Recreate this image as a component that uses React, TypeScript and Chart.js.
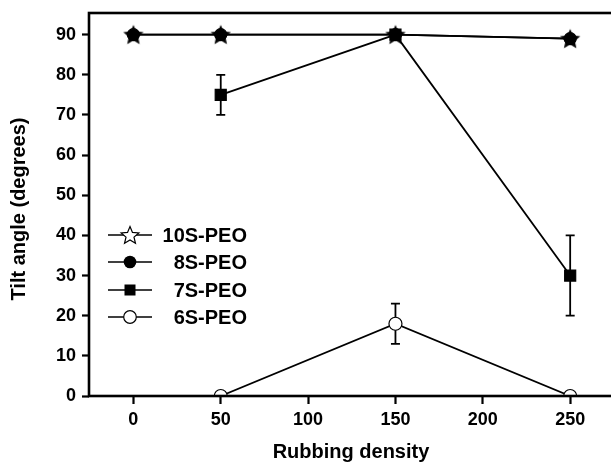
import React, { useEffect, useRef } from "react";
import { Chart, registerables } from "chart.js";

Chart.register(...registerables);

// Rubbing densities at which the tilt angle was measured
const densities = [0, 50, 150, 250];
const xTickValues = [0, 50, 100, 150, 200, 250];
const yTickValues = [0, 10, 20, 30, 40, 50, 60, 70, 80, 90];

// Tilt angle (degrees) per sample
const tilt10S = [90, 90, 90, 89];
const tilt8S = [90, 90, 90, 89];
const tilt7S = [null, 75, 90, 30];
const tilt6S = [null, 0, 18, 0];

// Error bar half-heights (degrees)
const err7S = [0, 5, 0, 10];
const err6S = [0, 0, 5, 0];

const legendLabels = ["10S-PEO", "8S-PEO", "7S-PEO", "6S-PEO"];
const xTitle = "Rubbing density";
const yTitle = "Tilt angle (degrees)";

const FONT = "'Liberation Sans', Arial, sans-serif";
const CANVAS_W = 626;
const CANVAS_H = 465;

function drawStarPath(ctx: CanvasRenderingContext2D, cx: number, cy: number, ro: number, ri: number) {
  ctx.beginPath();
  for (let i = 0; i < 10; i++) {
    const r = i % 2 === 0 ? ro : ri;
    const a = -Math.PI / 2 + (i * Math.PI) / 5;
    const x = cx + r * Math.cos(a);
    const y = cy + r * Math.sin(a);
    if (i === 0) ctx.moveTo(x, y);
    else ctx.lineTo(x, y);
  }
  ctx.closePath();
}

function makeStar(fill: string, stroke: string, outer: number): HTMLCanvasElement {
  const size = Math.ceil(outer * 2 + 4);
  const c = document.createElement("canvas");
  c.width = size;
  c.height = size;
  const ctx = c.getContext("2d")!;
  drawStarPath(ctx, size / 2, size / 2 + 0.8, outer, outer * 0.46);
  ctx.fillStyle = fill;
  ctx.fill();
  ctx.strokeStyle = stroke;
  ctx.lineWidth = 1.3;
  ctx.stroke();
  return c;
}

function toPoints(vals: (number | null)[]) {
  return densities
    .map((x, i) => ({ x, y: vals[i] }))
    .filter((p) => p.y !== null) as { x: number; y: number }[];
}

export default function App() {
  const ref = useRef<HTMLCanvasElement | null>(null);

  useEffect(() => {
    document.body.style.margin = "0";
    const canvas = ref.current!;
    const plotStar = makeStar("#000", "#000", 9);

    const errorBars = {
      id: "errorBars",
      beforeDatasetsDraw(chart: any) {
        const { ctx, scales } = chart;
        const xs = scales.x;
        const ys = scales.y;
        ctx.save();
        ctx.strokeStyle = "#000";
        ctx.lineWidth = 1.8;
        const sets: [(number | null)[], number[]][] = [
          [tilt7S, err7S],
          [tilt6S, err6S],
        ];
        sets.forEach(([vals, errs]) => {
          densities.forEach((d, i) => {
            const v = vals[i];
            const e = errs[i];
            if (v === null || !e) return;
            const px = xs.getPixelForValue(d);
            const top = ys.getPixelForValue(v + e);
            const bot = ys.getPixelForValue(v - e);
            ctx.beginPath();
            ctx.moveTo(px, top);
            ctx.lineTo(px, bot);
            ctx.moveTo(px - 4.5, top);
            ctx.lineTo(px + 4.5, top);
            ctx.moveTo(px - 4.5, bot);
            ctx.lineTo(px + 4.5, bot);
            ctx.stroke();
          });
        });
        ctx.restore();
      },
    };

    const frameAndLegend = {
      id: "frameAndLegend",
      afterDraw(chart: any) {
        const { ctx, chartArea } = chart;
        const { left, right, top, bottom } = chartArea;
        ctx.save();
        ctx.strokeStyle = "#000";
        ctx.lineWidth = 2.6;
        ctx.strokeRect(left, top, right - left, bottom - top);

        // axis titles
        ctx.fillStyle = "#000";
        ctx.font = `bold 20px ${FONT}`;
        ctx.textAlign = "center";
        ctx.textBaseline = "middle";
        ctx.fillText(xTitle, 351, 452);
        ctx.save();
        ctx.translate(19, 209);
        ctx.rotate(-Math.PI / 2);
        ctx.fillText(yTitle, 0, 0);
        ctx.restore();

        // legend
        const rows = [235, 262, 290, 317];
        const lx0 = 108;
        const lx1 = 152;
        const mx = 130;
        rows.forEach((y, i) => {
          ctx.strokeStyle = "#000";
          ctx.lineWidth = 1.6;
          ctx.beginPath();
          ctx.moveTo(lx0, y);
          ctx.lineTo(lx1, y);
          ctx.stroke();
          ctx.lineWidth = 1.2;
          if (i === 0) {
            drawStarPath(ctx, mx, y + 0.8, 9.3, 4.2);
            ctx.fillStyle = "#fff";
            ctx.fill();
            ctx.stroke();
          } else if (i === 1) {
            ctx.beginPath();
            ctx.arc(mx, y, 6.3, 0, Math.PI * 2);
            ctx.fillStyle = "#000";
            ctx.fill();
          } else if (i === 2) {
            ctx.fillStyle = "#000";
            ctx.fillRect(mx - 5.5, y - 5.5, 11, 11);
          } else {
            ctx.beginPath();
            ctx.arc(mx, y, 6.3, 0, Math.PI * 2);
            ctx.fillStyle = "#fff";
            ctx.fill();
            ctx.stroke();
          }
          ctx.fillStyle = "#000";
          ctx.font = `bold 20px ${FONT}`;
          ctx.textAlign = "right";
          ctx.textBaseline = "middle";
          ctx.fillText(legendLabels[i], 247, y + 1);
        });
        ctx.restore();
      },
    };

    const lineStyle = {
      borderColor: "#000",
      borderWidth: 1.8,
      showLine: true,
      pointBorderColor: "#000",
      pointBorderWidth: 1.2,
    };

    const chart = new Chart(canvas, {
      type: "scatter",
      data: {
        datasets: [
          {
            ...lineStyle,
            label: legendLabels[0],
            data: toPoints(tilt10S),
            pointStyle: plotStar as any,
            order: 0,
          },
          {
            ...lineStyle,
            label: legendLabels[1],
            data: toPoints(tilt8S),
            pointStyle: "circle",
            pointRadius: 6,
            backgroundColor: "#000",
            order: 1,
          },
          {
            ...lineStyle,
            label: legendLabels[2],
            data: toPoints(tilt7S),
            pointStyle: "rect",
            pointRadius: 7.8,
            backgroundColor: "#000",
            order: 2,
          },
          {
            ...lineStyle,
            label: legendLabels[3],
            data: toPoints(tilt6S),
            pointStyle: "circle",
            pointRadius: 6.5,
            backgroundColor: "#fff",
            order: 3,
          },
        ],
      },
      options: {
        animation: false,
        responsive: false,
        maintainAspectRatio: false,
        layout: { padding: { top: 13, right: CANVAS_W - 618, left: 0, bottom: 0 } },
        plugins: {
          legend: { display: false },
          tooltip: { enabled: false },
        },
        scales: {
          x: {
            type: "linear",
            min: -25.4,
            max: 276.8,
            afterBuildTicks: (scale: any) => {
              scale.ticks = xTickValues.map((v) => ({ value: v }));
            },
            afterFit: (scale: any) => {
              scale.height = CANVAS_H - 396;
              scale.paddingLeft = 0;
              scale.paddingRight = 0;
            },
            grid: {
              drawOnChartArea: false,
              drawTicks: true,
              tickLength: 8,
              tickWidth: 2.2,
              tickColor: "#000",
            },
            border: { display: false },
            ticks: {
              color: "#000",
              font: { family: FONT, size: 18, weight: "bold" },
              padding: 5,
              maxRotation: 0,
            },
          },
          y: {
            type: "linear",
            min: 0,
            max: 95.4,
            afterBuildTicks: (scale: any) => {
              scale.ticks = yTickValues.map((v) => ({ value: v }));
            },
            afterFit: (scale: any) => {
              scale.width = 89;
              scale.paddingTop = 0;
              scale.paddingBottom = 0;
            },
            grid: {
              drawOnChartArea: false,
              drawTicks: true,
              tickLength: 7,
              tickWidth: 2.2,
              tickColor: "#000",
            },
            border: { display: false },
            ticks: {
              color: "#000",
              font: { family: FONT, size: 18, weight: "bold" },
              padding: 6,
            },
          },
        },
      },
      plugins: [errorBars, frameAndLegend],
    });

    return () => chart.destroy();
  }, []);

  return (
    <div
      style={{
        position: "absolute",
        left: 0,
        top: 0,
        width: 611,
        height: 465,
        overflow: "hidden",
        background: "#fff",
      }}
    >
      <canvas
        ref={ref}
        width={CANVAS_W}
        height={CANVAS_H}
        style={{ width: CANVAS_W, height: CANVAS_H, display: "block" }}
      />
    </div>
  );
}
